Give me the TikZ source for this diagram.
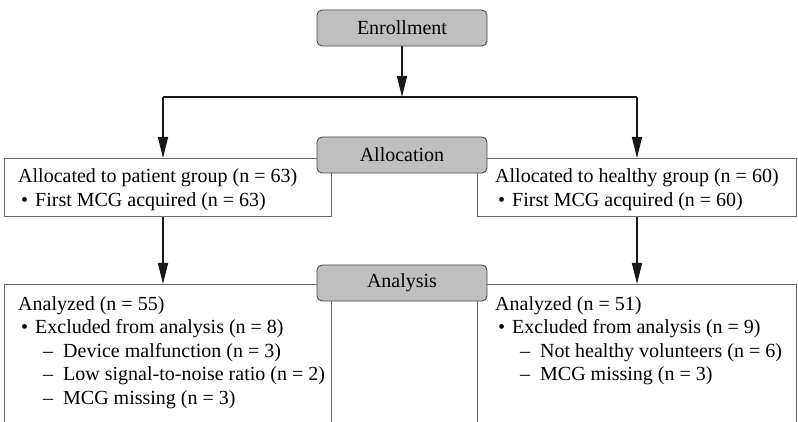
\documentclass[tikz,border=0pt]{standalone}
\usepackage{fontspec}
\setmainfont{Liberation Serif}
\usetikzlibrary{positioning, arrows.meta}
\definecolor{stagegray}{HTML}{BFBFBF}
\definecolor{stageedge}{HTML}{4A4A4A}
\definecolor{boxedge}{HTML}{6A6A6A}
\tikzset{
  stagebox/.style={draw=stageedge, fill=stagegray, rounded corners=5pt, line width=0.9pt,
    minimum width=170pt, minimum height=36pt, inner sep=0pt, font=\fontsize{20}{24}\selectfont},
  groupbox/.style={draw=boxedge, fill=white, line width=0.9pt, inner sep=0pt, anchor=north west},
  % base anchor sits on the last line, so shift down by the number of lines
  boxtext/.style={align=left, anchor=base west, inner sep=0pt, font=\fontsize{20}{23.5}\selectfont},
  flowline/.style={line width=1.5pt, draw=black!90},
  flowarrow/.style={flowline, -{Triangle[length=21pt, width=10pt]}}
}
\newcommand{\bulletitem}{\makebox[17pt][l]{\hspace*{3pt}\textbullet}}
\newcommand{\dashitem}{\hspace*{25pt}\makebox[20pt][l]{--}}

\begin{document}
\begin{tikzpicture}[x=1pt, y=-1pt]
    \useasboundingbox (0,0) rectangle (798,422);
    \clip (0,0) rectangle (798,422);

    % Group boxes
    \node[groupbox, minimum width=327pt, minimum height=58pt] (patient) at (4,158) {};
    \node[groupbox, minimum width=319pt, minimum height=58pt] (healthy) at (477,158) {};
    \node[groupbox, minimum width=327pt, minimum height=200pt] (patientres) at (4,284) {};
    \node[groupbox, minimum width=319pt, minimum height=200pt] (healthyres) at (477,284) {};

    % Box texts
    \node[boxtext] (patienttxt) at ([xshift=14pt, yshift=-48.5pt]patient.north west)
        {Allocated to patient group (n = 63)\\
         \bulletitem First MCG acquired (n = 63)};
    \node[boxtext] (healthytxt) at ([xshift=18pt, yshift=-48.5pt]healthy.north west)
        {Allocated to healthy group (n = 60)\\
         \bulletitem First MCG acquired (n = 60)};
    \node[boxtext] (patientrestxt) at ([xshift=14pt, yshift=-120pt]patientres.north west)
        {Analyzed (n = 55)\\
         \bulletitem Excluded from analysis (n = 8)\\
         \dashitem Device malfunction (n = 3)\\
         \dashitem Low signal-to-noise ratio (n = 2)\\
         \dashitem MCG missing (n = 3)};
    \node[boxtext] (healthyrestxt) at ([xshift=18pt, yshift=-96.5pt]healthyres.north west)
        {Analyzed (n = 51)\\
         \bulletitem Excluded from analysis (n = 9)\\
         \dashitem Not healthy volunteers (n = 6)\\
         \dashitem MCG missing (n = 3)};

    % Stage labels
    \node[stagebox] (enroll) at (402,28) {Enrollment};
    \node[stagebox] (alloc) at (402,155) {Allocation};
    \node[stagebox] (analysis) at (402,283) {Analysis};

    % Flow
    \coordinate (split) at (402,97);
    \coordinate (lsplit) at (163,97);
    \coordinate (rsplit) at (637,97);
    \draw[flowarrow] (enroll) -- (split);
    \draw[flowline] (lsplit) -- (rsplit);
    \draw[flowarrow] (lsplit) -- (lsplit |- patient.north);
    \draw[flowarrow] (rsplit) -- (rsplit |- healthy.north);
    \draw[flowarrow] (lsplit |- patient.south) -- (lsplit |- patientres.north);
    \draw[flowarrow] (rsplit |- healthy.south) -- (rsplit |- healthyres.north);
\end{tikzpicture}
\end{document}
